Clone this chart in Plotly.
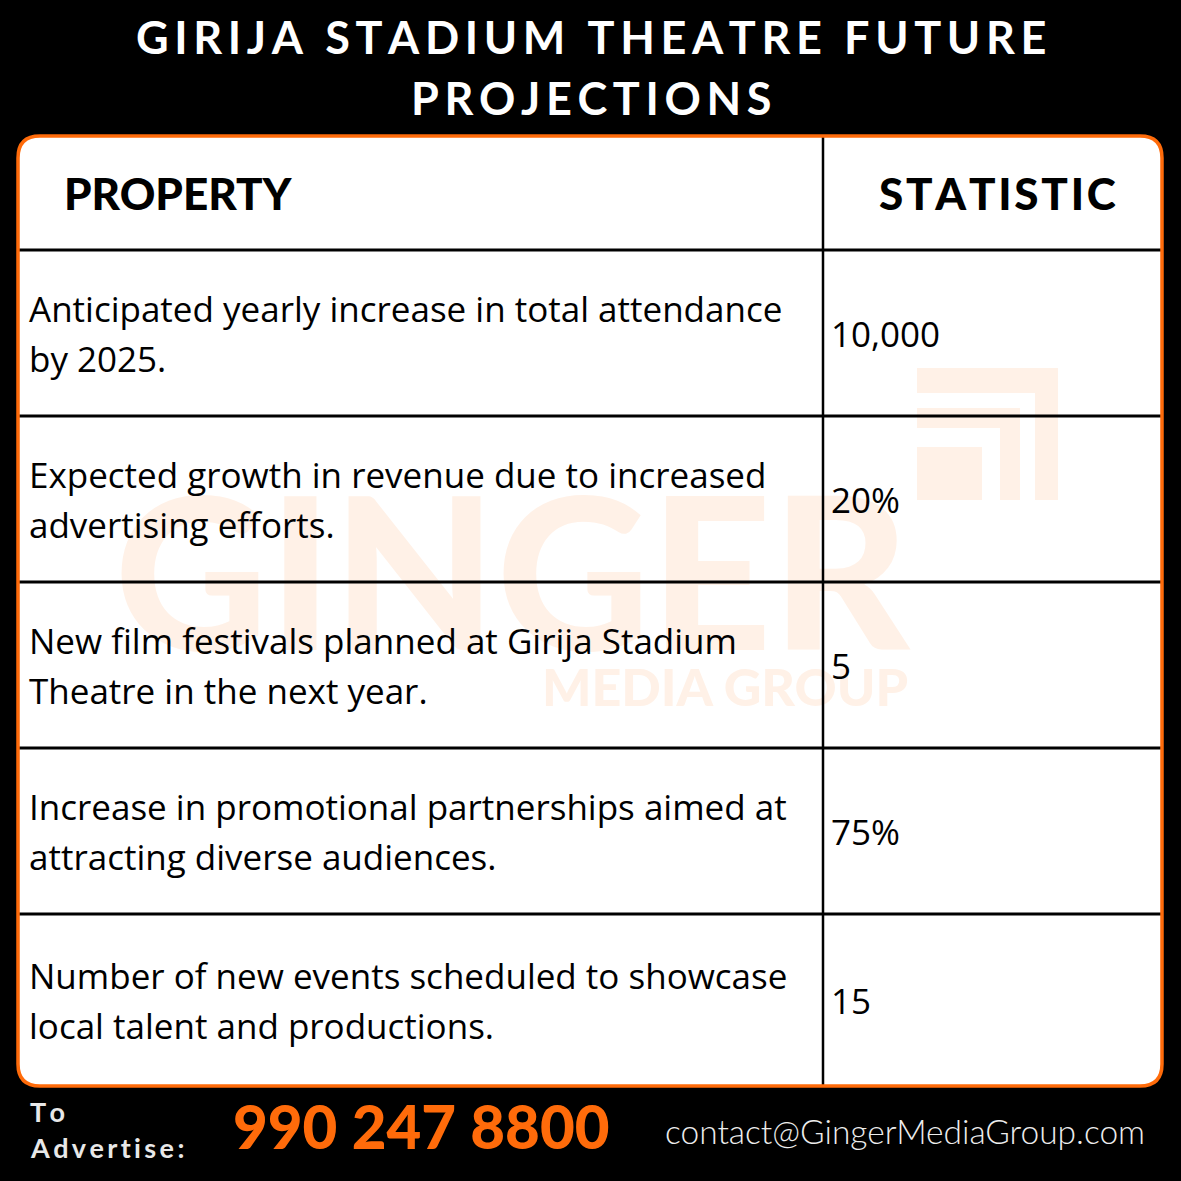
import plotly.graph_objects as go

# ---------------- data ----------------
title_lines = ["GIRIJA STADIUM THEATRE FUTURE", "PROJECTIONS"]
header_labels = ["PROPERTY", "STATISTIC"]
properties = [
    "Anticipated yearly increase in total attendance<br>by 2025.",
    "Expected growth in revenue due to increased<br>advertising efforts.",
    "New film festivals planned at Girija Stadium<br>Theatre in the next year.",
    "Increase in promotional partnerships aimed at<br>attracting diverse audiences.",
    "Number of new events scheduled to showcase<br>local talent and productions.",
]
statistics = ["10,000", "20%", "5", "75%", "15"]
footer_label = ["To", "Advertise:"]
phone = "990 247 8800"
email = "contact@GingerMediaGroup.com"
watermark = ["GINGER", "MEDIA GROUP"]

# ---------------- layout geometry ----------------
W = H = 1181
ORANGE = "#FF6B0A"
WM = "#FFF1E7"
BODY_FONT = "Open Sans"
TL, TR, TT, TB = 18, 1162, 136, 1086      # table box
COL_X = 823                                # column divider
HEADER_B = 250
ROW_H = 166
LINE_GAP = 50

def spaced(s, sep="\u2009"):
    return sep.join(list(s))

def rounded_rect(x0, y0, x1, y1, r):
    return (f"M {x0+r},{y0} L {x1-r},{y0} Q {x1},{y0} {x1},{y0+r} "
            f"L {x1},{y1-r} Q {x1},{y1} {x1-r},{y1} L {x0+r},{y1} "
            f"Q {x0},{y1} {x0},{y1-r} L {x0},{y0+r} Q {x0},{y0} {x0+r},{y0} Z")

fig = go.Figure()

shapes = []
# white table body
shapes.append(dict(type="path", path=rounded_rect(TL, TT, TR, TB, 22),
                   fillcolor="white", line=dict(width=0), layer="below"))
# watermark logo (nested frames)
for (x0, y0, x1, y1) in [(917, 368, 1058, 393), (1035, 368, 1058, 500),
                         (917, 408, 1020, 428), (1000, 408, 1020, 500),
                         (917, 447, 982, 500)]:
    shapes.append(dict(type="rect", x0=x0, y0=y0, x1=x1, y1=y1,
                       fillcolor=WM, line=dict(width=0), layer="below"))

# watermark text (trace -> sits under the grid lines)
fig.add_trace(go.Scatter(x=[512], y=[597], mode="text", text=[watermark[0]],
                         textposition="middle center",
                         textfont=dict(family="Lato", size=212, color=WM, weight=900),
                         hoverinfo="skip", showlegend=False))
fig.add_trace(go.Scatter(x=[725], y=[693], mode="text", text=[watermark[1]],
                         textposition="middle center",
                         textfont=dict(family="Lato", size=52, color=WM, weight=900),
                         hoverinfo="skip", showlegend=False))

# grid lines
n = len(properties)
row_tops = [HEADER_B + i * ROW_H for i in range(n)]
row_bots = row_tops[1:] + [TB]
for y in row_tops:
    shapes.append(dict(type="line", x0=TL, x1=TR, y0=y, y1=y,
                       line=dict(color="black", width=3), layer="above"))
shapes.append(dict(type="line", x0=COL_X, x1=COL_X, y0=TT, y1=TB,
                   line=dict(color="black", width=2.5), layer="above"))
# orange border
shapes.append(dict(type="path", path=rounded_rect(TL, TT, TR, TB, 22),
                   line=dict(color=ORANGE, width=3.5), layer="above"))

ann = []
# title
for i, t in enumerate(title_lines):
    ann.append(dict(x=W / 2, y=37 + i * 61, text=spaced(t), showarrow=False,
                    xanchor="center", yanchor="middle",
                    font=dict(family="Lato", size=45, color="white", weight=700)))
# header
ann.append(dict(x=62, y=(TT + HEADER_B) / 2, text=header_labels[0], showarrow=False,
                xanchor="left", yanchor="middle",
                font=dict(family="Lato", size=44, color="black", weight=900)))
ann.append(dict(x=997, y=(TT + HEADER_B) / 2, text=spaced(header_labels[1], "\u200a"),
                showarrow=False, xanchor="center", yanchor="middle",
                font=dict(family="Lato", size=44, color="black", weight=900)))
# rows
for i, (p, s) in enumerate(zip(properties, statistics)):
    cy = (row_tops[i] + row_bots[i]) / 2
    lines = p.split("<br>")
    k = len(lines)
    for j, ln in enumerate(lines):
        ann.append(dict(x=27, y=cy + (j - (k - 1) / 2) * LINE_GAP, text=ln,
                        showarrow=False, xanchor="left", yanchor="middle",
                        font=dict(family=BODY_FONT, size=35, color="black")))
    ann.append(dict(x=829, y=cy, text=s, showarrow=False, xanchor="left",
                    yanchor="middle",
                    font=dict(family=BODY_FONT, size=35, color="black")))
# footer
for i, t in enumerate(footer_label):
    ann.append(dict(x=28, y=1111 + i * 36, text=spaced(t), showarrow=False,
                    xanchor="left", yanchor="middle",
                    font=dict(family="Lato", size=27, color="#E8E8E8", weight=700)))
ann.append(dict(x=421, y=1126, text=phone, showarrow=False, xanchor="center",
                yanchor="middle",
                font=dict(family="Lato", size=60, color=ORANGE, weight=900)))
ann.append(dict(x=1147, y=1131, text=email, showarrow=False, xanchor="right",
                yanchor="middle",
                font=dict(family="Lato", size=33.5, color="#EDEDED", weight=300)))

fig.update_layout(
    width=W, height=H, margin=dict(l=0, r=0, t=0, b=0),
    paper_bgcolor="black", plot_bgcolor="black",
    xaxis=dict(range=[0, W], visible=False, fixedrange=True),
    yaxis=dict(range=[H, 0], visible=False, fixedrange=True),
    shapes=shapes, annotations=ann, showlegend=False,
)
fig.write_html("out.html", config={"displayModeBar": False},
               post_script="document.body.style.margin='0';document.body.style.background='black';")
